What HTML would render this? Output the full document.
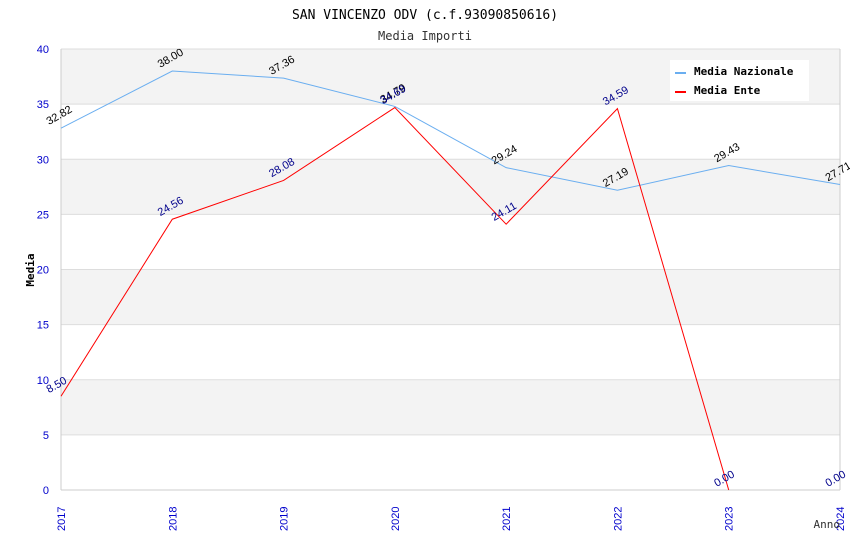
<!DOCTYPE html>
<html><head><meta charset="utf-8"><style>
body{margin:0;background:#fff;}
svg{display:block;font-family:"DejaVu Sans Mono","Liberation Mono",monospace;}
.sans{font-family:"Liberation Sans","DejaVu Sans",sans-serif;}
</style></head><body>
<svg id="chart" width="850" height="550" xmlns="http://www.w3.org/2000/svg">
<text x="425" y="19" text-anchor="middle" font-size="13">SAN VINCENZO ODV (c.f.93090850616)</text>
<text x="425" y="40" text-anchor="middle" font-size="12" fill="#333">Media Importi</text>
<g id="bands"></g><g id="grid"></g><g id="axes"></g><g id="series"></g><g id="labels"></g>
<text transform="translate(34,270) rotate(-90)" text-anchor="middle" font-size="11" font-weight="bold">Media</text>
<text x="840" y="528" text-anchor="end" font-size="11" fill="#333">Anno</text>
<g>
<rect x="670" y="60" width="139" height="41" fill="#fff"/>
<rect x="675" y="72" width="11" height="2" fill="#6aaef0"/>
<text x="694" y="75" font-size="11" font-weight="bold">Media Nazionale</text>
<rect x="675" y="91" width="11" height="2" fill="#f00"/>
<text x="694" y="94" font-size="11" font-weight="bold">Media Ente</text>
</g>
</svg>
<script>
const years=["2017","2018","2019","2020","2021","2022","2023","2024"];
const nazionale=[32.82,38.00,37.36,34.79,29.24,27.19,29.43,27.71];
const ente=[8.50,24.56,28.08,34.69,24.11,34.59,0.00,0.00];
const yTicks=[0,5,10,15,20,25,30,35,40];
const NS="http://www.w3.org/2000/svg";
const x0=61,x1=840,y0=490,y1=49;
const xs=i=>x0+(x1-x0)*i/(years.length-1);
const ys=v=>y0-(y0-y1)*v/40;
function mk(t,a,p){const e=document.createElementNS(NS,t);for(const k in a)e.setAttribute(k,a[k]);document.getElementById(p).appendChild(e);return e;}
for(let i=0;i<yTicks.length-1;i++){
 if(i%2===1){const r=mk('rect',{x:x0,y:ys(yTicks[i+1]),width:x1-x0,height:ys(yTicks[i])-ys(yTicks[i+1]),fill:'#f3f3f3'},'bands');
 
 }
}
yTicks.forEach(v=>{
 const l=mk('line',{x1:x0,x2:x1,y1:ys(v),y2:ys(v),stroke:'#ddd'},'grid');
 
 
 const t=mk('text',{x:x0-12,y:ys(v)+4,'text-anchor':'end','font-size':11,fill:'#00c',class:'sans'},'axes');
 
 
 t.textContent=v;
});
mk('line',{x1:x0,x2:x0,y1:y1,y2:y0,stroke:'#ccc'},'axes');
mk('line',{x1:x1,x2:x1,y1:y1,y2:y0,stroke:'#ccc'},'axes');
mk('line',{x1:x0,x2:x1,y1:y0,y2:y0,stroke:'#ccc'},'axes');
years.forEach((y,i)=>{
 const t=mk('text',{transform:`translate(${xs(i)+4},${y0+41}) rotate(-90)`,'font-size':11,fill:'#00c',class:'sans'},'axes');
 
 
 t.textContent=y;
});
function series(d,col,lab,name){
 let n=d.length;
 while(n>1&&d[n-1]===0&&d[n-2]===0)n--;
 const p=mk('polyline',{points:d.slice(0,n).map((v,i)=>xs(i)+','+ys(v)).join(' '),fill:'none',stroke:col,'stroke-width':1},'series');
 
 
 d.forEach((v,i)=>{
  const t=mk('text',{transform:`translate(${xs(i)-12},${ys(v)-3}) rotate(-30)`,'font-size':11,fill:lab,class:'sans'},'labels');
  
  
  t.textContent=v.toFixed(2);
 });
}
series(nazionale,'#6aaef0','#000','line-media-nazionale');
series(ente,'#f00','#00008b','line-media-ente');
</script>
</body></html>
